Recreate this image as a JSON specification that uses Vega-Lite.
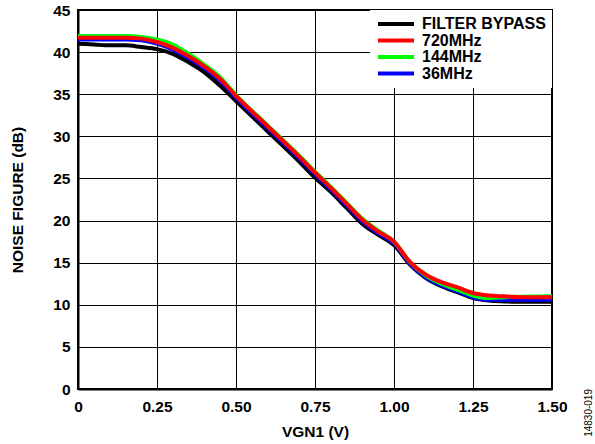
{
  "$schema": "https://vega.github.io/schema/vega-lite/v6.json",
  "width": 474,
  "height": 379,
  "autosize": {"type": "none"},
  "padding": {"left": 78, "top": 10, "right": 43, "bottom": 55},
  "background": "white",
  "config": {
    "font": "Liberation Sans",
    "view": {"stroke": "black", "strokeWidth": 2},
    "axis": {
      "grid": true, "gridColor": "black", "gridOpacity": 1, "gridWidth": 1,
      "domain": true, "domainColor": "black", "domainWidth": 2,
      "ticks": false, "tickSize": 0,
      "labelFont": "Liberation Sans", "labelFontSize": 15.5, "labelFontWeight": "bold", "labelColor": "black",
      "labelFlush": false, "labelOverlap": false,
      "titleFont": "Liberation Sans", "titleFontSize": 15.5, "titleFontWeight": "bold", "titleColor": "black"
    }
  },
  "title": {
    "text": "14830-019", "orient": "right", "anchor": "end", "angle": -90, "frame": "group",
    "baseline": "middle",
    "fontSize": 10, "fontWeight": "normal", "font": "Liberation Sans", "color": "black", "offset": 12
  },
  "datasets": {
    "nf": [
      {"s":"FILTER BYPASS","v":0,"nf":41.0},{"s":"FILTER BYPASS","v":0.05,"nf":40.9},{"s":"FILTER BYPASS","v":0.1,"nf":40.8},{"s":"FILTER BYPASS","v":0.15,"nf":40.8},{"s":"FILTER BYPASS","v":0.2,"nf":40.6},{"s":"FILTER BYPASS","v":0.25,"nf":40.35},{"s":"FILTER BYPASS","v":0.3,"nf":39.8},{"s":"FILTER BYPASS","v":0.35,"nf":38.8},{"s":"FILTER BYPASS","v":0.4,"nf":37.6},{"s":"FILTER BYPASS","v":0.45,"nf":36.0},{"s":"FILTER BYPASS","v":0.5,"nf":34.2},{"s":"FILTER BYPASS","v":0.6,"nf":30.6},{"s":"FILTER BYPASS","v":0.7,"nf":27.0},{"s":"FILTER BYPASS","v":0.75,"nf":25.1},{"s":"FILTER BYPASS","v":0.8,"nf":23.4},{"s":"FILTER BYPASS","v":0.85,"nf":21.5},{"s":"FILTER BYPASS","v":0.9,"nf":19.6},{"s":"FILTER BYPASS","v":0.95,"nf":18.3},{"s":"FILTER BYPASS","v":1.0,"nf":17.1},{"s":"FILTER BYPASS","v":1.05,"nf":14.8},{"s":"FILTER BYPASS","v":1.1,"nf":13.2},{"s":"FILTER BYPASS","v":1.15,"nf":12.2},{"s":"FILTER BYPASS","v":1.2,"nf":11.5},{"s":"FILTER BYPASS","v":1.25,"nf":10.8},{"s":"FILTER BYPASS","v":1.3,"nf":10.5},{"s":"FILTER BYPASS","v":1.35,"nf":10.4},{"s":"FILTER BYPASS","v":1.4,"nf":10.35},{"s":"FILTER BYPASS","v":1.5,"nf":10.35},
      {"s":"36MHz","v":0,"nf":41.5},{"s":"36MHz","v":0.05,"nf":41.5},{"s":"36MHz","v":0.1,"nf":41.5},{"s":"36MHz","v":0.15,"nf":41.5},{"s":"36MHz","v":0.2,"nf":41.4},{"s":"36MHz","v":0.25,"nf":41.0},{"s":"36MHz","v":0.3,"nf":40.3},{"s":"36MHz","v":0.35,"nf":39.3},{"s":"36MHz","v":0.4,"nf":38.1},{"s":"36MHz","v":0.45,"nf":36.6},{"s":"36MHz","v":0.5,"nf":34.6},{"s":"36MHz","v":0.6,"nf":31.0},{"s":"36MHz","v":0.7,"nf":27.4},{"s":"36MHz","v":0.75,"nf":25.5},{"s":"36MHz","v":0.8,"nf":23.7},{"s":"36MHz","v":0.85,"nf":21.8},{"s":"36MHz","v":0.9,"nf":19.9},{"s":"36MHz","v":0.95,"nf":18.5},{"s":"36MHz","v":1.0,"nf":17.3},{"s":"36MHz","v":1.05,"nf":14.9},{"s":"36MHz","v":1.1,"nf":13.3},{"s":"36MHz","v":1.15,"nf":12.3},{"s":"36MHz","v":1.2,"nf":11.6},{"s":"36MHz","v":1.25,"nf":10.9},{"s":"36MHz","v":1.3,"nf":10.6},{"s":"36MHz","v":1.35,"nf":10.6},{"s":"36MHz","v":1.4,"nf":10.6},{"s":"36MHz","v":1.5,"nf":10.6},
      {"s":"144MHz","v":0,"nf":41.9},{"s":"144MHz","v":0.05,"nf":41.9},{"s":"144MHz","v":0.1,"nf":41.9},{"s":"144MHz","v":0.15,"nf":41.9},{"s":"144MHz","v":0.2,"nf":41.8},{"s":"144MHz","v":0.25,"nf":41.5},{"s":"144MHz","v":0.3,"nf":40.9},{"s":"144MHz","v":0.35,"nf":39.8},{"s":"144MHz","v":0.4,"nf":38.5},{"s":"144MHz","v":0.45,"nf":37.0},{"s":"144MHz","v":0.5,"nf":34.9},{"s":"144MHz","v":0.6,"nf":31.3},{"s":"144MHz","v":0.7,"nf":27.7},{"s":"144MHz","v":0.75,"nf":25.8},{"s":"144MHz","v":0.8,"nf":24.0},{"s":"144MHz","v":0.85,"nf":22.1},{"s":"144MHz","v":0.9,"nf":20.2},{"s":"144MHz","v":0.95,"nf":18.8},{"s":"144MHz","v":1.0,"nf":17.5},{"s":"144MHz","v":1.05,"nf":15.1},{"s":"144MHz","v":1.1,"nf":13.5},{"s":"144MHz","v":1.15,"nf":12.5},{"s":"144MHz","v":1.2,"nf":11.8},{"s":"144MHz","v":1.25,"nf":11.1},{"s":"144MHz","v":1.3,"nf":10.8},{"s":"144MHz","v":1.35,"nf":10.9},{"s":"144MHz","v":1.4,"nf":10.95},{"s":"144MHz","v":1.5,"nf":11.0},
      {"s":"720MHz","v":0,"nf":41.7},{"s":"720MHz","v":0.05,"nf":41.7},{"s":"720MHz","v":0.1,"nf":41.7},{"s":"720MHz","v":0.15,"nf":41.7},{"s":"720MHz","v":0.2,"nf":41.6},{"s":"720MHz","v":0.25,"nf":41.2},{"s":"720MHz","v":0.3,"nf":40.5},{"s":"720MHz","v":0.35,"nf":39.5},{"s":"720MHz","v":0.4,"nf":38.3},{"s":"720MHz","v":0.45,"nf":36.8},{"s":"720MHz","v":0.5,"nf":34.8},{"s":"720MHz","v":0.6,"nf":31.2},{"s":"720MHz","v":0.7,"nf":27.6},{"s":"720MHz","v":0.75,"nf":25.7},{"s":"720MHz","v":0.8,"nf":23.9},{"s":"720MHz","v":0.85,"nf":22.0},{"s":"720MHz","v":0.9,"nf":20.1},{"s":"720MHz","v":0.95,"nf":18.7},{"s":"720MHz","v":1.0,"nf":17.5},{"s":"720MHz","v":1.05,"nf":15.1},{"s":"720MHz","v":1.1,"nf":13.6},{"s":"720MHz","v":1.15,"nf":12.7},{"s":"720MHz","v":1.2,"nf":12.1},{"s":"720MHz","v":1.25,"nf":11.4},{"s":"720MHz","v":1.3,"nf":11.1},{"s":"720MHz","v":1.35,"nf":11.0},{"s":"720MHz","v":1.4,"nf":10.9},{"s":"720MHz","v":1.5,"nf":10.9}
    ]
  },
  "data": {"name": "nf"},
  "mark": {"type": "line", "strokeWidth": 4, "interpolate": "monotone"},
  "encoding": {
    "x": {
      "field": "v", "type": "quantitative",
      "scale": {"domain": [0, 1.5], "nice": false, "zero": false},
      "axis": {
        "values": [0, 0.25, 0.5, 0.75, 1.0, 1.25, 1.5],
        "labelExpr": "datum.value == 0 ? '0' : format(datum.value, '.2f')",
        "labelPadding": 10.5,
        "title": "VGN1 (V)", "titleY": 47.7, "titleBaseline": "alphabetic"
      }
    },
    "y": {
      "field": "nf", "type": "quantitative",
      "scale": {"domain": [0, 45], "nice": false},
      "axis": {
        "values": [0, 5, 10, 15, 20, 25, 30, 35, 40, 45],
        "labelPadding": 8,
        "title": "NOISE FIGURE (dB)", "titleX": -61, "titleY": 189.5,
        "titleAngle": -90, "titleBaseline": "middle", "titleAlign": "center"
      }
    },
    "color": {
      "field": "s", "type": "nominal",
      "scale": {"domain": ["FILTER BYPASS", "720MHz", "144MHz", "36MHz"], "range": ["#000000", "#ff0000", "#00ff00", "#0000ff"]},
      "legend": {
        "title": null, "orient": "top-right", "offset": 0, "padding": 6,
        "fillColor": "white", "strokeColor": null,
        "symbolType": "M-3,0H3", "symbolSize": 144, "symbolStrokeWidth": 4, "symbolOffset": 12,
        "labelFont": "Liberation Sans", "labelFontSize": 16, "labelFontWeight": "bold", "labelColor": "black",
        "labelOffset": 18, "rowPadding": 0.5
      }
    }
  }
}
